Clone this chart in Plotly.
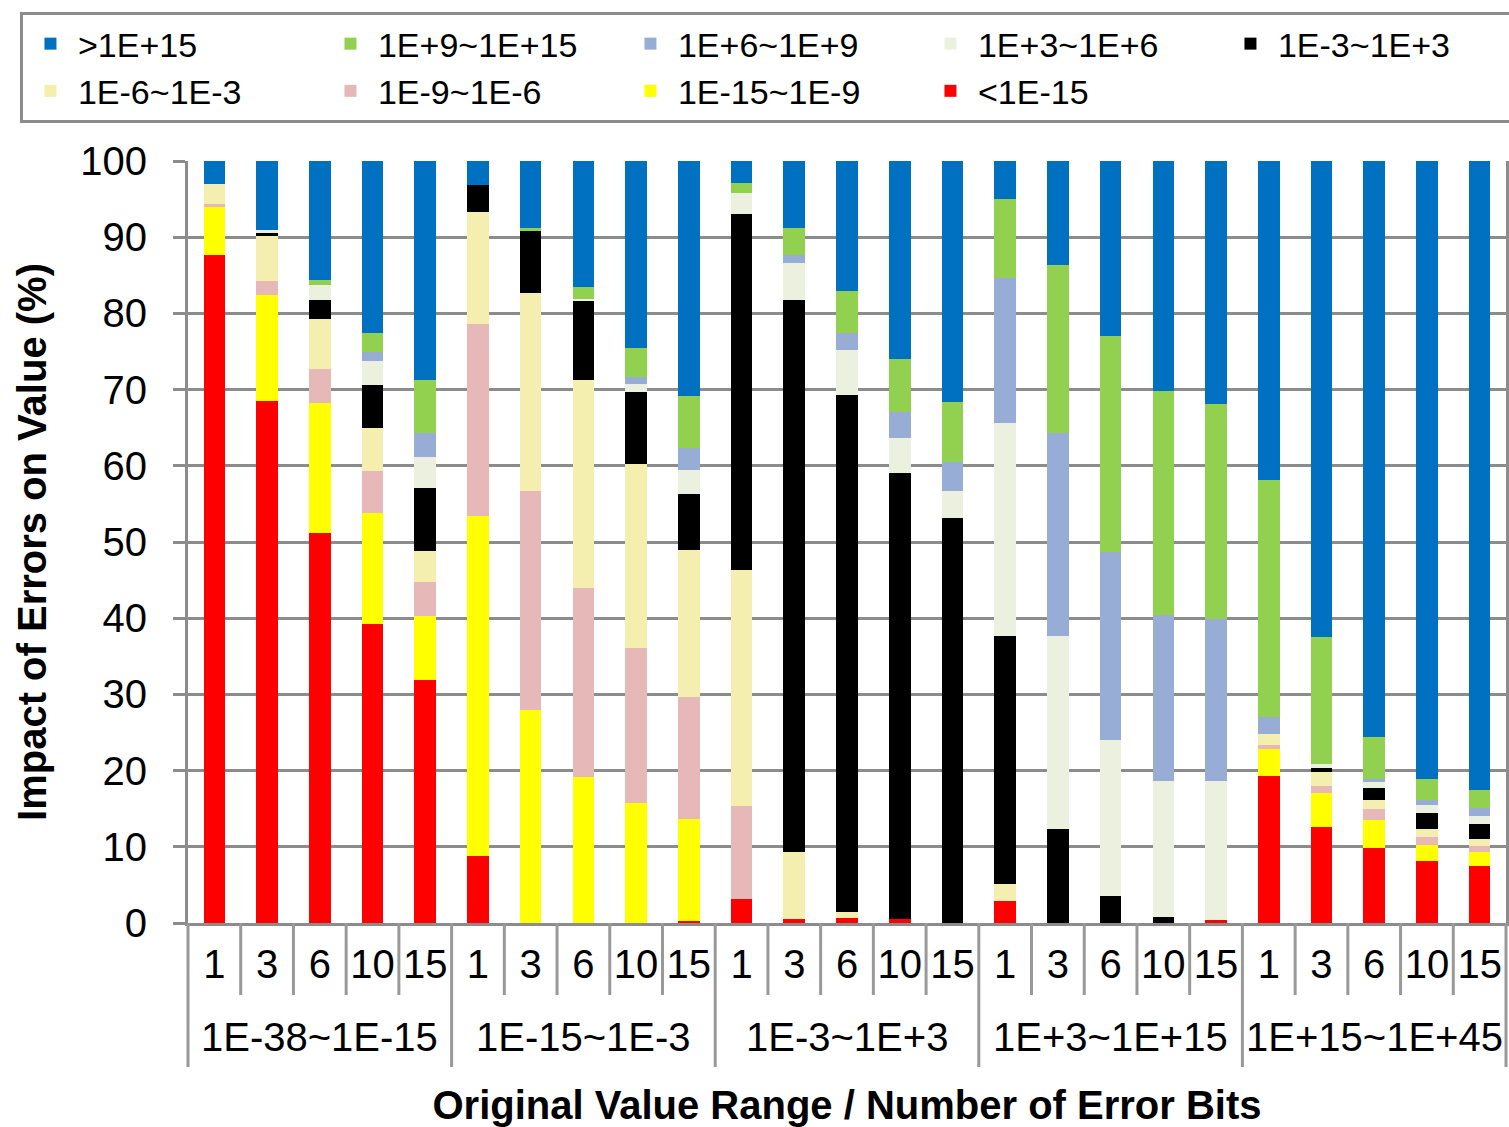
import plotly.graph_objects as go

# Category levels: original value range (outer) and number of flipped bits (inner)
value_ranges = ["1E-38~1E-15", "1E-15~1E-3", "1E-3~1E+3", "1E+3~1E+15", "1E+15~1E+45"]
error_bits = ["1", "3", "6", "10", "15"]

# Share (%) of errors by magnitude of the resulting value change, one entry per bar
lt_1e_15 = [87.6, 68.5, 51.2, 39.3, 31.9,
            8.8, 0, 0, 0, 0.3,
            3.15, 0.5, 0.7, 0.5, 0,
            2.9, 0, 0, 0, 0.4,
            19.3, 12.6, 9.8, 8.1, 7.5]
e15_e9 = [6.3, 13.9, 17.1, 14.5, 8.4,
          44.65, 28.0, 19.1, 15.8, 13.3,
          0, 0, 0, 0, 0,
          0, 0, 0, 0, 0,
          3.5, 4.4, 3.7, 2.1, 1.8]
e9_e6 = [0.4, 1.85, 4.4, 5.5, 4.4,
         25.15, 28.7, 24.8, 20.3, 16.1,
         12.15, 0, 0, 0, 0,
         0, 0, 0, 0, 0,
         0.55, 1.0, 1.4, 1.1, 0.8]
e6_e3 = [2.7, 5.85, 6.6, 5.7, 4.1,
         14.75, 26.0, 27.4, 24.2, 19.2,
         31.0, 8.85, 0.7, 0, 0,
         2.2, 0, 0, 0, 0,
         1.4, 1.8, 1.3, 1.1, 0.9]
em3_e3 = [0, 0.5, 2.5, 5.6, 8.3,
          3.55, 8.1, 10.35, 9.4, 7.4,
          46.8, 72.45, 67.9, 58.5, 53.1,
          32.5, 12.4, 3.5, 0.8, 0,
          0, 0.6, 1.55, 2.1, 2.0]
e3_e6 = [0, 0.4, 1.9, 3.2, 4.0,
         0, 0, 0.2, 1.0, 3.1,
         2.65, 4.8, 5.9, 4.6, 3.6,
         28.0, 25.3, 20.5, 17.8, 18.3,
         0, 0.5, 0.8, 1.0, 1.05]
e6_e9 = [0, 0, 0, 1.2, 3.2,
         0, 0, 0, 0.9, 2.9,
         0, 1.0, 2.2, 3.4, 3.8,
         19.1, 26.65, 24.7, 21.85, 21.15,
         2.35, 0, 0.3, 0.7, 1.0]
e9_e15 = [0, 0, 0.7, 2.4, 6.9,
          0, 0.4, 1.65, 3.9, 6.9,
          1.35, 3.6, 5.5, 7.0, 7.9,
          10.3, 22.0, 28.3, 29.4, 28.25,
          31.1, 16.6, 5.6, 2.65, 2.4]
gt_1e15 = [3.0, 9.0, 15.6, 22.6, 28.8,
           3.1, 8.8, 16.5, 24.5, 30.8,
           2.9, 8.8, 17.1, 26.0, 31.6,
           5.0, 13.65, 23.0, 30.15, 31.9,
           41.8, 62.5, 75.55, 81.15, 82.55]

# Stacked from the bottom up
series = [
    ("<1E-15", lt_1e_15, "#FF0000"),
    ("1E-15~1E-9", e15_e9, "#FFFF00"),
    ("1E-9~1E-6", e9_e6, "#E6B9B8"),
    ("1E-6~1E-3", e6_e3, "#F4EFAE"),
    ("1E-3~1E+3", em3_e3, "#000000"),
    ("1E+3~1E+6", e3_e6, "#EBF1DE"),
    ("1E+6~1E+9", e6_e9, "#97ADD5"),
    ("1E+9~1E+15", e9_e15, "#92D050"),
    (">1E+15", gt_1e15, "#0070C0"),
]

# one unique category key per bar; the axis shows only the bit count
keys = [f"{r} | {b}" for r in value_ranges for b in error_bits]
bit_text = [b for _ in value_ranges for b in error_bits]
group_centres = [f"{r} | {error_bits[len(error_bits) // 2]}" for r in value_ranges]

FONT = "Liberation Sans, Arial, sans-serif"
GRID = "#8C8C8C"
PLOT_H = 762  # plot-area height in px

fig = go.Figure()
for name, vals, color in series:
    fig.add_trace(go.Bar(
        x=keys, y=vals, name=name,
        marker=dict(color=color, line=dict(width=0)),
    ))

# separators under the axis: short between bars, long between value ranges
n = len(keys)
shapes = []
for k in range(n + 1):
    long_sep = k % len(error_bits) == 0
    shapes.append(dict(
        type="line", xref="paper", yref="paper",
        x0=k / n, x1=k / n, y0=0, y1=-(144 if long_sep else 72) / PLOT_H,
        line=dict(color="#999999", width=3),
    ))

# value-range labels centred under each group of five bars
annotations = [
    dict(x=c, y=-114 / PLOT_H, xref="x", yref="paper", text=r,
         showarrow=False, xanchor="center", yanchor="middle",
         font=dict(size=40, family=FONT))
    for c, r in zip(group_centres, value_ranges)
]

fig.update_layout(
    width=1509, height=1127,
    margin=dict(l=188, r=3, t=161, b=204, autoexpand=False),
    barmode="stack", bargap=0.59,
    plot_bgcolor="white", paper_bgcolor="white",
    font=dict(family=FONT, size=40, color="black"),
    shapes=shapes, annotations=annotations,
    legend=dict(
        orientation="h", traceorder="reversed",
        x=-0.1275, xanchor="left", y=1.1955, yanchor="top",
        entrywidth=240, itemwidth=45, bordercolor=GRID, borderwidth=3,
        bgcolor="white", font=dict(size=34),
    ),
    showlegend=True,
)
fig.update_yaxes(
    range=[0, 100], dtick=10, showgrid=True, gridcolor=GRID, gridwidth=3,
    showline=True, linecolor=GRID, linewidth=3, mirror=True,
    ticks="outside", ticklen=12, tickwidth=3, tickcolor=GRID,
    tickfont=dict(size=40), ticklabelstandoff=18,
    title=dict(text="<b>Impact of Errors on Value (%)</b>", font=dict(size=40), standoff=22),
)
fig.update_xaxes(
    type="category", categoryorder="array", categoryarray=keys,
    tickvals=keys, ticktext=bit_text,
    showline=True, linecolor=GRID, linewidth=3,
    ticks="", tickangle=0, ticklabelstandoff=4,
    tickfont=dict(size=40),
    title=dict(text="<b>Original Value Range / Number of Error Bits</b>",
               font=dict(size=40), standoff=106),
)

fig.write_html("out.html")
